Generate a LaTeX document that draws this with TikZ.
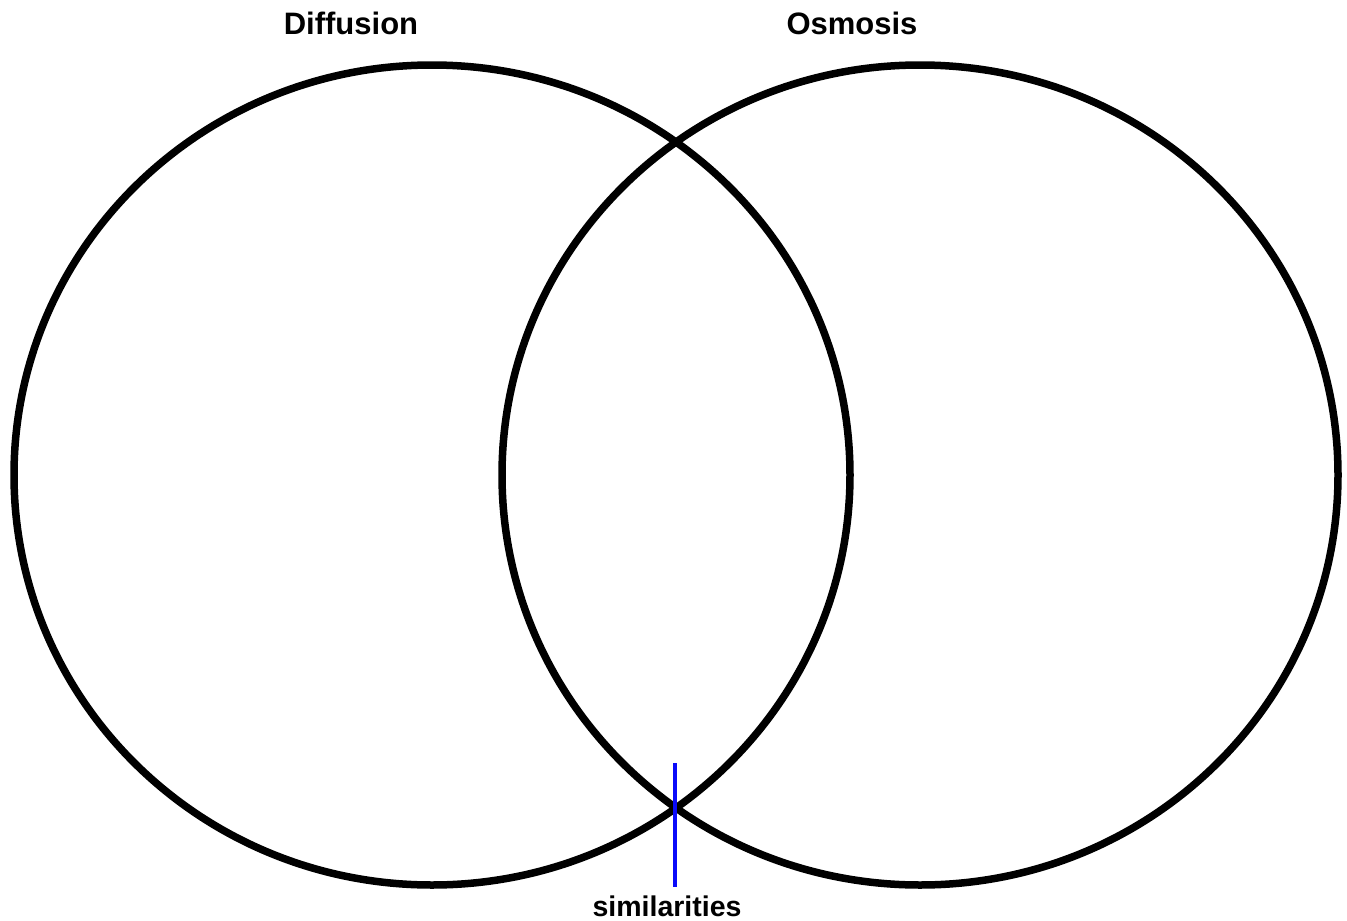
\documentclass[tikz,border=0pt]{standalone}
\usepackage{fontspec}
\setmainfont{Liberation Sans}
\usetikzlibrary{shapes.geometric}
\definecolor{simblue}{RGB}{10,10,250}
\begin{document}
\begin{tikzpicture}[x=1pt,y=-1pt,
  setring/.style={draw=black, line width=7.5pt, ellipse, inner sep=0pt,
    minimum width=836pt, minimum height=820pt},
  title/.style={font=\fontsize{31}{31}\selectfont\bfseries, anchor=base, inner sep=0pt},
  simlabel/.style={font=\fontsize{28.5}{28.5}\selectfont\bfseries, anchor=base, inner sep=0pt},
  pointer/.style={draw=simblue, line width=3.4pt}]
\useasboundingbox (0,0) rectangle (1347,921);
\node[setring] (left) at (432,475) {};
\node[setring] (right) at (920,475) {};
\node[title] (diff) at (351,34) {Diffusion};
\node[title] (osm) at (852,34) {Osmosis};
\node[simlabel] (sim) at (667,916) {similarities};
\coordinate (ptop) at (675,763);
\coordinate (pbot) at (675,887);
\draw[pointer] (ptop) -- (pbot);
\end{tikzpicture}
\end{document}
